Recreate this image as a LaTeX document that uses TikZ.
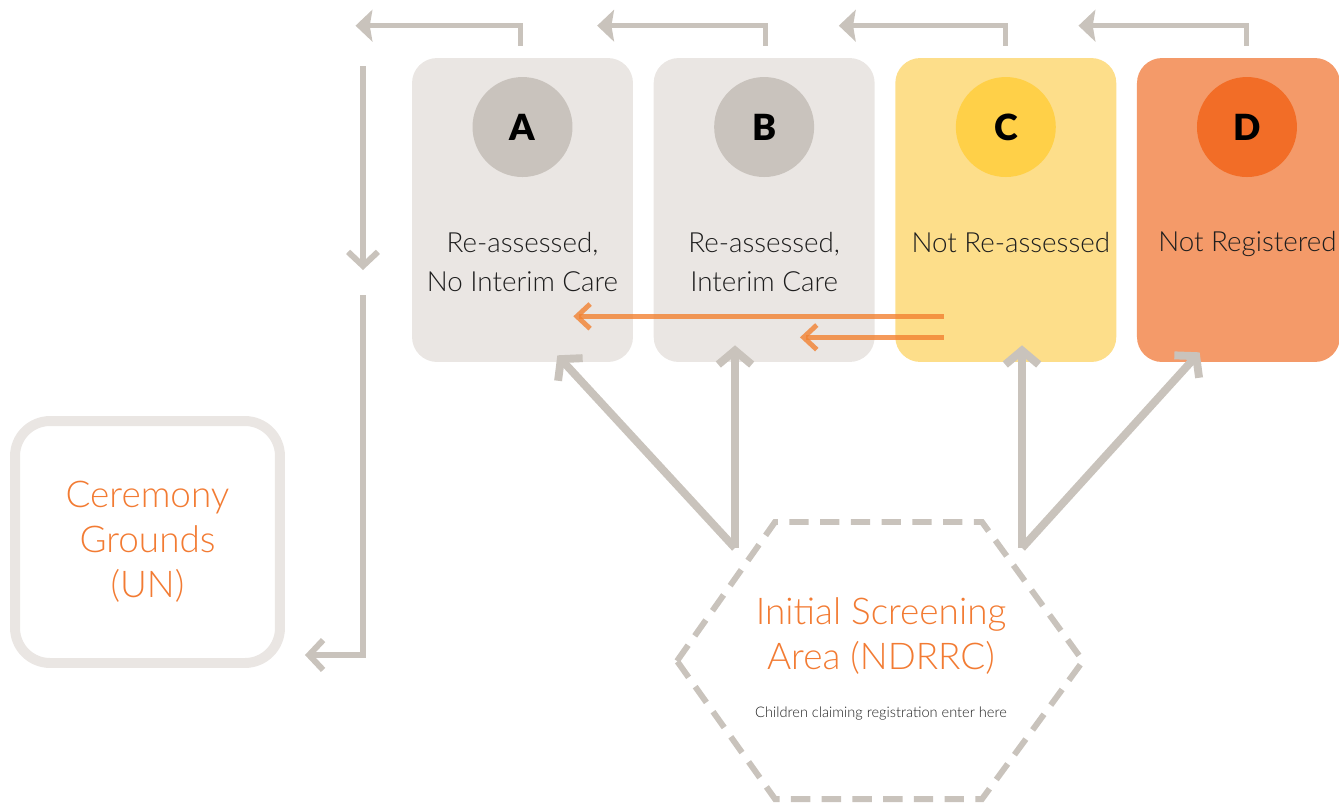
\documentclass[tikz,border=0pt]{standalone}
\usepackage{fontspec}
\setmainfont{Lato}[UprightFont=* Light,BoldFont=* Black]
\usepackage{tikz}
\usetikzlibrary{arrows.meta,calc,positioning}

\definecolor{cardgrey}{HTML}{EAE6E3}
\definecolor{badgegrey}{HTML}{C9C3BD}
\definecolor{flowgrey}{HTML}{C9C3BC}
\definecolor{cardyellow}{HTML}{FDDE8A}
\definecolor{badgeyellow}{HTML}{FFD048}
\definecolor{cardorange}{HTML}{F49A69}
\definecolor{badgeorange}{HTML}{F26D27}
\definecolor{labelorange}{HTML}{F27B33}
\definecolor{moveorange}{HTML}{F28131}
\definecolor{ink}{HTML}{1E1E1E}

\tikzset{
  card/.style={rounded corners=0.5cm, minimum width=4.42cm, minimum height=6.08cm, inner sep=0pt},
  badge/.style={circle, minimum size=2cm, inner sep=0pt, font=\bfseries\fontsize{20.5}{20.5}\selectfont},
  cardtext/.style={align=center, text=ink, font=\fontsize{15.8}{22}\selectfont},
  placetext/.style={align=center, text=labelorange, font=\fontsize{21}{25.5}\selectfont},
  backflow/.style={draw=flowgrey, line width=2.8pt, -{Stealth[length=9.6pt,width=18pt,inset=1.5pt]}},
  sideflow/.style={draw=flowgrey, line width=3.4pt, -{Straight Barb[sharp,length=8pt,width=17pt]}},
  upflow/.style={draw=flowgrey, line width=4.5pt, -{Straight Barb[sharp,length=8pt,width=19pt]}},
  moveflow/.style={draw=moveorange, draw opacity=0.8, line width=2.8pt, -{Straight Barb[sharp,length=7.5pt,width=14pt]}},
  hexline/.style={draw=flowgrey, line width=3.4pt, dash pattern=on 11pt off 6.5pt}
}

\begin{document}
\begin{tikzpicture}[x=0.02cm, y=-0.02cm, node distance=0.4cm]
\useasboundingbox (0,0) rectangle (1339,802);

% status cards
\node[card, fill=cardgrey] (A) at (522.5,210) {};
\node[card, fill=cardgrey, right=of A] (B) {};
\node[card, fill=cardyellow, right=of B] (C) {};
\node[card, fill=cardorange, minimum width=4.06cm, right=of C] (D) {};

\node[badge, fill=badgegrey, below=0.38cm of A.north] (Abadge) {A};
\node[badge, fill=badgegrey, below=0.38cm of B.north] (Bbadge) {B};
\node[badge, fill=badgeyellow, below=0.38cm of C.north] (Cbadge) {C};
\node[badge, fill=badgeorange, below=0.38cm of D.north, xshift=0.17cm] (Dbadge) {D};

\node[cardtext] (Atext) at ($(A)+(0,52)$) {Re-assessed,\\No Interim Care};
\node[cardtext] (Btext) at ($(B)+(0,52)$) {Re-assessed,\\Interim Care};
\node[cardtext] (Ctext) at ($(C)+(5,33)$) {Not Re-assessed};
\node[cardtext] (Dtext) at ($(D)+(9,34)$) {Not Registered};

% places
\node[placetext, draw=cardgrey, line width=5.67pt, rounded corners=0.7cm,
      minimum width=5.3cm, minimum height=4.84cm] (UN) at (147.5,542) {Ceremony\\Grounds\\(UN)};

\draw[hexline] (677,661) -- (775,522) -- (982,522) -- (1083,661) -- (982,799) -- (775,799) -- cycle;
\node[placetext] (screen) at (881,636) {Initial Screening\\Area (NDRRC)};
\node[text=ink, font=\fontsize{8.3}{10}\selectfont, below=0.4cm of screen] (note) {Children claiming registration enter here};

% back to the grounds
\draw[backflow] ($(A.north)+(-2,-12)$) -- ++(0,-20) -- ++(-165,0);
\draw[backflow] ($(B.north)+(1,-12)$) -- ++(0,-20) -- ++(-168,0);
\draw[backflow] ($(C.north)+(0,-12)$) -- ++(0,-20) -- ++(-167,0);
\draw[backflow] ($(D.north)+(8,-12)$) -- ++(0,-20) -- ++(-168,0);

\coordinate (down) at (363,66);
\draw[sideflow] (down) -- ++(0,204);
\draw[sideflow] ($(down)+(0,229)$) |- ($(UN.east)+(20,113)$);

% out of the screening area
\coordinate (fromleft) at (735,548);
\coordinate (fromright) at (1022,548);
\draw[upflow] (fromleft) -- ($(A.south east)+(-76,-7)$);
\draw[upflow] (fromleft) -- ($(fromleft |- B.south)+(0,-17)$);
\draw[upflow] (fromright) -- ($(fromright |- C.south)+(0,-17)$);
\draw[upflow] (fromright) -- ($(D.south west)+(63,-10)$);

% moved between cards
\draw[moveflow] ($(C.south west)+(49,-46)$) -- ($(A.south east)+(-60,-46)$);
\draw[moveflow] ($(C.south west)+(49,-25)$) -- ($(B.south east)+(-75,-25)$);
\end{tikzpicture}
\end{document}
